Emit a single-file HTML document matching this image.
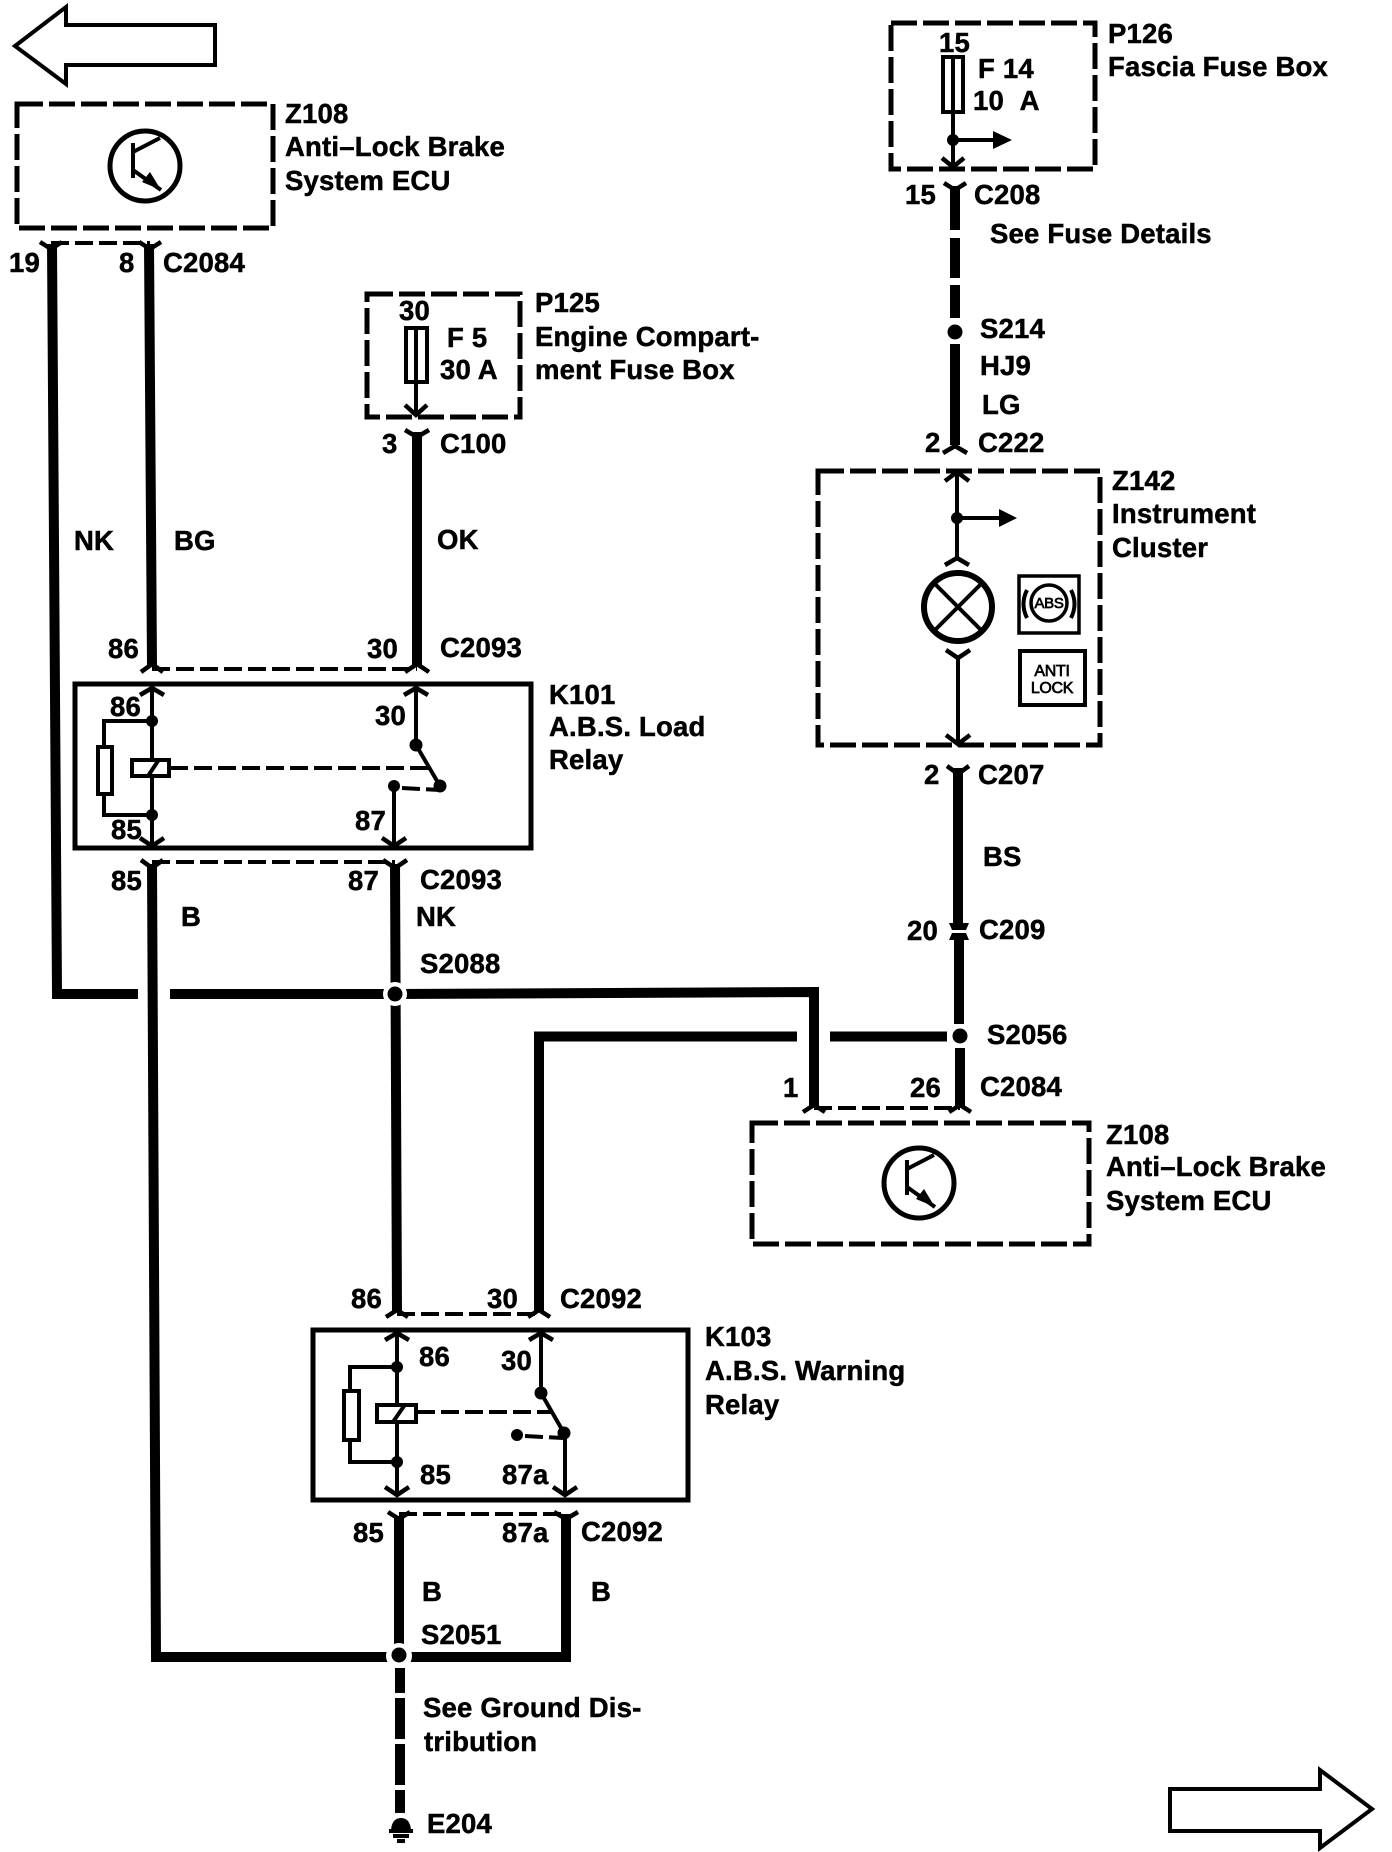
<!DOCTYPE html>
<html>
<head>
<meta charset="utf-8">
<style>
html,body{margin:0;padding:0;background:#fff;}
svg{display:block;}
text{font-family:"Liberation Sans",sans-serif;font-weight:bold;font-size:27.5px;letter-spacing:.2px;fill:#000;stroke:#000;stroke-width:.5px;transform:translateX(-1px);}
.w{fill:none;stroke:#000;stroke-width:10;}
.t{fill:none;stroke:#000;stroke-width:4;}
.f{fill:none;stroke:#000;stroke-width:4.5;}
.d{fill:none;stroke:#000;stroke-width:5;stroke-dasharray:26 6;}
.c{fill:none;stroke:#000;stroke-width:4;stroke-dasharray:18 6;}
.b{fill:#fff;stroke:#000;stroke-width:5;}
.s{fill:#fff;stroke:#000;stroke-width:4;}
</style>
</head>
<body>
<svg xmlns="http://www.w3.org/2000/svg" width="1392" height="1852" viewBox="0 0 1392 1852">
<rect width="1392" height="1852" fill="#fff"/>

<!-- direction arrows -->
<path class="t" d="M15,46 L66,7 V25 H215 V65 H66 V84 Z"/>
<path class="t" d="M1372,1809 L1320,1770 V1789 H1170 V1831 H1320 V1848 Z"/>

<!-- Z108 top -->
<rect class="d" x="17" y="104" width="256" height="124"/>
<circle cx="145" cy="166" r="35" fill="none" stroke="#000" stroke-width="5"/>
<path class="t" d="M133,143 V178 M133,152 L160,138 M133,170 L161,190"/>
<path d="M161,190 L142,182 L150,172 Z"/>
<text x="286" y="123">Z108</text>
<text x="286" y="156">Anti–Lock Brake</text>
<text x="286" y="190">System ECU</text>

<!-- top connectors C2084 -->
<path class="f" d="M40,242 L51,249 L62,242 M139,242 L150,249 L161,242"/>
<path class="c" d="M51,243 H150"/>
<path class="w" d="M52,244 L57,994 H138"/>
<path class="w" d="M149,244 L152,665"/>
<text x="10" y="272">19</text>
<text x="120" y="272">8</text>
<text x="164" y="272">C2084</text>
<text x="75" y="550">NK</text>
<text x="175" y="550">BG</text>

<!-- P125 -->
<rect class="d" x="367" y="294" width="153" height="123"/>
<rect class="s" x="406" y="328" width="21" height="54"/>
<path class="s" d="M416,328 V382"/>
<path class="t" d="M416,382 V416"/>
<path class="f" d="M405,405 L416,415 L427,405"/>
<text x="400" y="320">30</text>
<text x="448" y="347">F 5</text>
<text x="441" y="379">30 A</text>
<text x="536" y="312">P125</text>
<text x="536" y="346">Engine Compart-</text>
<text x="536" y="379">ment Fuse Box</text>

<!-- C100 wire -->
<path class="f" d="M405,430 L417,437 L429,430"/>
<path class="w" d="M417,432 V665"/>
<text x="383" y="453">3</text>
<text x="441" y="453">C100</text>
<text x="438" y="549">OK</text>

<!-- C2093 upper -->
<path class="f" d="M141,672 L152,664 L163,672 M405,672 L417,664 L429,672"/>
<path class="c" d="M152,669 H417"/>
<text x="109" y="658">86</text>
<text x="368" y="658">30</text>
<text x="441" y="657">C2093</text>

<!-- K101 -->
<rect class="b" x="75" y="684" width="456" height="164"/>
<path class="t" d="M152,688 V845 M152,721 H104 V815 H152 M416,688 V745 L440,786 M394,786 V845"/>
<path class="f" d="M140,695 L152,688 L164,695 M404,695 L416,688 L428,695 M140,838 L152,846 L164,838 M382,838 L394,846 L406,838"/>
<rect class="s" x="98" y="747" width="14" height="47"/>
<rect class="s" x="132" y="760" width="37" height="16" stroke-width="4.5"/>
<path class="t" d="M148,776 L158,761"/>
<path class="c" d="M170,768 H429"/>
<path class="c" d="M402,788 L440,790" stroke-dasharray="8 6"/>
<circle cx="152" cy="721" r="6"/>
<circle cx="152" cy="815" r="6"/>
<circle cx="416" cy="745" r="6.5"/>
<circle cx="440" cy="786" r="6.5"/>
<circle cx="394" cy="786" r="6"/>
<text x="111" y="716">86</text>
<text x="112" y="839">85</text>
<text x="376" y="725">30</text>
<text x="356" y="830">87</text>
<text x="550" y="704">K101</text>
<text x="550" y="736">A.B.S. Load</text>
<text x="550" y="769">Relay</text>

<!-- C2093 lower -->
<path class="f" d="M141,860 L152,868 L163,860 M383,860 L395,868 L407,860"/>
<path class="c" d="M152,862 H395"/>
<path class="w" d="M152,864 L156,1657 H566 V1514"/>
<path class="w" d="M395,864 L397,1312"/>
<text x="112" y="890">85</text>
<text x="349" y="890">87</text>
<text x="421" y="889">C2093</text>
<text x="182" y="926">B</text>
<text x="417" y="926">NK</text>
<text x="421" y="973">S2088</text>

<!-- S2088 bus -->
<path class="w" d="M170,994 H395 L814,992 L814,1106"/>
<circle cx="395" cy="994" r="12" fill="#fff"/>
<circle cx="395" cy="994" r="7.5"/>

<!-- S2056 bus -->
<path class="w" d="M797,1036.5 H539 V1312"/>
<path class="w" d="M830,1036.5 H947"/>

<!-- P126 -->
<rect class="d" x="891" y="23" width="204" height="146"/>
<rect class="s" x="943" y="57" width="20" height="55"/>
<path class="s" d="M953,57 V112"/>
<path class="t" d="M953,112 V168 M953,140 H995"/>
<path d="M993,131 L1012,140 L993,149 Z"/>
<circle cx="953" cy="140" r="6"/>
<path class="f" d="M942,158 L953,167 L964,158"/>
<text x="940" y="52">15</text>
<text x="979" y="78">F 14</text>
<text x="974" y="110">10 &#160;A</text>
<text x="1109" y="43">P126</text>
<text x="1109" y="76">Fascia Fuse Box</text>

<!-- C208 / S214 / C222 -->
<path class="f" d="M944,183 L955,190 L966,183"/>
<path class="w" d="M955,186 V230 M955,238 V278 M955,285 V318 M955,344 V445"/>
<circle cx="955" cy="332" r="7.5"/>
<path class="f" d="M943,453 L955,446 L967,453"/>
<text x="906" y="204">15</text>
<text x="975" y="204">C208</text>
<text x="991" y="243">See Fuse Details</text>
<text x="981" y="338">S214</text>
<text x="981" y="375">HJ9</text>
<text x="983" y="414">LG</text>
<text x="926" y="452">2</text>
<text x="979" y="452">C222</text>

<!-- Z142 -->
<rect class="d" x="818" y="471" width="282" height="274"/>
<path class="t" d="M957,472 V560 M957,518 H1000 M958,658 V743"/>
<path class="f" d="M945,481 L957,472 L969,481 M945,565 L957,558 L969,565 M946,650 L958,658 L970,650 M946,735 L958,744 L970,735"/>
<path d="M999,509 L1017,518 L999,527 Z"/>
<circle cx="957" cy="518" r="6"/>
<circle cx="958" cy="607" r="34" fill="#fff" stroke="#000" stroke-width="6"/>
<path class="t" d="M934,583 L982,631 M982,583 L934,631"/>
<rect x="1019" y="576" width="60" height="57" fill="#fff" stroke="#000" stroke-width="3.5"/>
<circle cx="1049" cy="603" r="18" fill="#fff" stroke="#000" stroke-width="3.5"/>
<path class="t" d="M1027,590 Q1020,604 1027,618 M1071,590 Q1078,604 1071,618"/>
<text x="1050" y="608" text-anchor="middle" style="font-size:15px;font-weight:normal;letter-spacing:-.3px;stroke-width:.7px">ABS</text>
<rect x="1020" y="651" width="65" height="54" fill="#fff" stroke="#000" stroke-width="4"/>
<text x="1053" y="676" text-anchor="middle" style="font-size:16px;font-weight:normal;letter-spacing:-.3px;stroke-width:.7px">ANTI</text>
<text x="1053" y="693" text-anchor="middle" style="font-size:16px;font-weight:normal;letter-spacing:-.3px;stroke-width:.7px">LOCK</text>
<text x="1113" y="490">Z142</text>
<text x="1113" y="523">Instrument</text>
<text x="1113" y="557">Cluster</text>

<!-- C207 / C209 / S2056 -->
<path class="f" d="M947,766 L958,774 L969,766"/>
<path class="w" d="M958,768 L958,925 M959,938 L959,1024 M960,1048 L960,1106"/>
<path d="M949,923 H969 L966,930 H952 Z M949,940 H969 L966,933 H952 Z"/>
<circle cx="960" cy="1036" r="7.5"/>
<text x="925" y="784">2</text>
<text x="979" y="784">C207</text>
<text x="984" y="866">BS</text>
<text x="908" y="940">20</text>
<text x="980" y="939">C209</text>
<text x="988" y="1044">S2056</text>
<text x="784" y="1097">1</text>
<text x="911" y="1097">26</text>
<text x="981" y="1096">C2084</text>

<!-- Z108 lower -->
<path class="f" d="M803,1112 L814,1105 L825,1112 M949,1112 L960,1105 L971,1112"/>
<path class="c" d="M814,1108 H960"/>
<rect class="d" x="752" y="1123" width="337" height="121"/>
<circle cx="919" cy="1183" r="35" fill="none" stroke="#000" stroke-width="5"/>
<path class="t" d="M907,1160 V1195 M907,1169 L934,1155 M907,1187 L935,1207"/>
<path d="M935,1207 L916,1199 L924,1189 Z"/>
<text x="1107" y="1144">Z108</text>
<text x="1107" y="1176">Anti–Lock Brake</text>
<text x="1107" y="1210">System ECU</text>

<!-- C2092 upper -->
<path class="f" d="M386,1317 L397,1310 L408,1317 M528,1317 L539,1310 L550,1317"/>
<path class="c" d="M397,1314 H539"/>
<text x="352" y="1308">86</text>
<text x="488" y="1308">30</text>
<text x="561" y="1308">C2092</text>

<!-- K103 -->
<rect class="b" x="313" y="1330" width="375" height="170"/>
<path class="t" d="M397,1333 V1493 M397,1367 H350 V1462 H397 M541,1333 V1393 L564,1433 M565,1433 V1493"/>
<path class="f" d="M385,1340 L397,1333 L409,1340 M529,1340 L541,1333 L553,1340 M385,1487 L397,1495 L409,1487 M553,1487 L565,1495 L577,1487"/>
<rect class="s" x="344" y="1391" width="15" height="49"/>
<rect class="s" x="377" y="1405" width="39" height="17" stroke-width="4.5"/>
<path class="t" d="M393,1422 L404,1406"/>
<path class="c" d="M417,1412 H552"/>
<path class="c" d="M525,1436 L563,1438" stroke-dasharray="8 6"/>
<circle cx="397" cy="1367" r="6"/>
<circle cx="397" cy="1462" r="6"/>
<circle cx="541" cy="1393" r="6.5"/>
<circle cx="564" cy="1433" r="6.5"/>
<circle cx="517" cy="1435" r="6"/>
<text x="420" y="1366">86</text>
<text x="421" y="1484">85</text>
<text x="502" y="1370">30</text>
<text x="503" y="1484">87a</text>
<text x="706" y="1346">K103</text>
<text x="706" y="1380">A.B.S. Warning</text>
<text x="706" y="1414">Relay</text>

<!-- C2092 lower -->
<path class="f" d="M388,1512 L399,1519 L410,1512 M554,1512 L566,1519 L578,1512"/>
<path class="c" d="M399,1514 H566"/>
<path class="w" d="M399,1516 V1645"/>
<circle cx="399" cy="1656" r="13" fill="#fff"/>
<circle cx="399" cy="1655" r="7.5"/>
<path class="w" d="M400,1668 V1693 M400,1698 V1739 M400,1744 V1785 M400,1790 V1813"/>
<text x="354" y="1542">85</text>
<text x="503" y="1542">87a</text>
<text x="582" y="1541">C2092</text>
<text x="423" y="1601">B</text>
<text x="592" y="1601">B</text>
<text x="422" y="1644">S2051</text>
<text x="424" y="1717">See Ground Dis-</text>
<text x="425" y="1751">tribution</text>

<!-- Ground -->
<path d="M391,1830 Q392,1818 401,1818 Q410,1818 411,1830 Z"/>
<path class="t" d="M389,1831 H413" stroke-width="3"/>
<path class="t" d="M393,1836 H409" stroke-width="3"/>
<path class="t" d="M397,1841 H405" stroke-width="3"/>
<text x="428" y="1833">E204</text>
</svg>
</body>
</html>
